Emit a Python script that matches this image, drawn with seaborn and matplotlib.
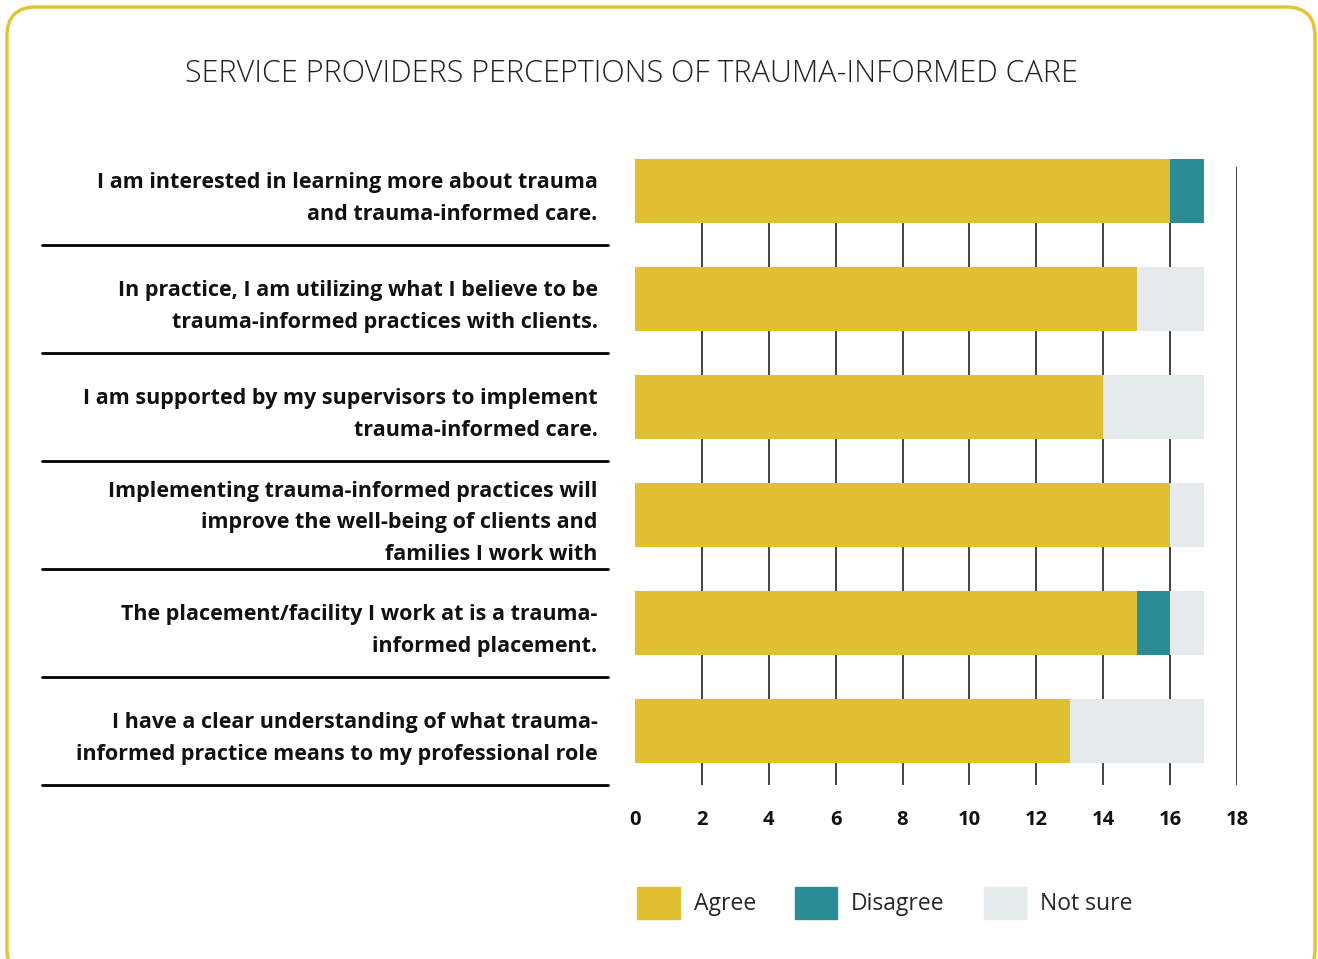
import pandas as pd
import numpy as np
import seaborn as sns
import matplotlib.pyplot as plt
from matplotlib.patches import FancyBboxPatch, Rectangle
from matplotlib.lines import Line2D
from matplotlib.transforms import blended_transform_factory

statements = [
    'I am interested in learning more about trauma\nand trauma-informed care.',
    'In practice, I am utilizing what I believe to be\ntrauma-informed practices with clients.',
    'I am supported by my supervisors to implement\ntrauma-informed care.',
    'Implementing trauma-informed practices will\nimprove the well-being of clients and\nfamilies I work with',
    'The placement/facility I work at is a trauma-\ninformed placement.',
    'I have a clear understanding of what trauma-\ninformed practice means to my professional role',
]
agree = [16, 15, 14, 16, 15, 13]
disagree = [1, 0, 0, 0, 1, 0]
not_sure = [0, 2, 3, 1, 1, 4]
x_ticks = [0, 2, 4, 6, 8, 10, 12, 14, 16, 18]

c_agree = '#E0BF30'
c_dis = '#2A8C94'
c_ns = '#E5EAEC'

df = pd.DataFrame({'statement': statements, 'Agree': agree,
                   'Disagree': disagree, 'Not sure': not_sure})
df['ad'] = df['Agree'] + df['Disagree']
df['total'] = df['ad'] + df['Not sure']

sns.set_style('white')
plt.rcParams['font.family'] = ['Open Sans', 'DejaVu Sans']

fig = plt.figure(figsize=(13.18, 9.59), dpi=100)
ax = fig.add_axes([635/1318, 1-785/959, 602/1318, 618/959])

sns.barplot(data=df, x='total', y='statement', color=c_ns, width=0.6,
            orient='h', ax=ax, saturation=1)
sns.barplot(data=df, x='ad', y='statement', color=c_dis, width=0.6,
            orient='h', ax=ax, saturation=1)
sns.barplot(data=df, x='Agree', y='statement', color=c_agree, width=0.6,
            orient='h', ax=ax, saturation=1)
for p in ax.patches:
    p.set_clip_on(False)
    p.set_linewidth(0)

ax.set_xlim(0, 18)
ax.set_ylim(5.5, -0.222)
ax.set_xticks(x_ticks)
ax.set_xticklabels([str(t) for t in x_ticks], fontsize=14.5, fontweight='bold',
                   color='#111111')
ax.tick_params(axis='x', length=0, pad=18)
ax.tick_params(axis='y', length=0, pad=27)
ax.set_yticks(range(len(statements)))
ax.set_yticklabels(statements, fontsize=15.5, fontweight='bold',
                   linespacing=1.65, ha='right', color='#111111')
ax.set_xlabel('')
ax.set_ylabel('')
ax.set_axisbelow(True)
ax.grid(axis='x', color='#222222', linewidth=1.2)
ax.xaxis.get_gridlines()[0].set_visible(False)
for s in ax.spines.values():
    s.set_visible(False)

# separators under each statement
tr = blended_transform_factory(fig.transFigure, ax.transData)
for i in range(len(statements)):
    fig.add_artist(Line2D([42/1318, 608/1318], [i + 0.5, i + 0.5],
                          transform=tr, color='black', linewidth=2))

fig.text(631/1318, 1-74/959,
         'SERVICE PROVIDERS PERCEPTIONS OF TRAUMA-INFORMED CARE',
         ha='center', va='center', fontsize=22, fontweight='light',
         color='#222222')

handles = [Rectangle((0, 0), 1, 1, color=c) for c in (c_agree, c_dis, c_ns)]
fig.legend(handles, ['Agree', 'Disagree', 'Not sure'], loc='center left',
           bbox_to_anchor=(626/1318, 1-903/959), ncol=3, frameon=False,
           fontsize=16.5, handlelength=1.85, handleheight=1.75,
           handletextpad=0.6, columnspacing=1.7, borderpad=0)

fig.add_artist(FancyBboxPatch((7/1318, -0.02), 1308/1318, 1-7/959+0.02,
                              boxstyle='round,pad=0,rounding_size=0.022',
                              transform=fig.transFigure, fill=False,
                              edgecolor='#E2C43A', linewidth=2.5,
                              mutation_aspect=1318/959))

fig.savefig('out.png', dpi=100)
